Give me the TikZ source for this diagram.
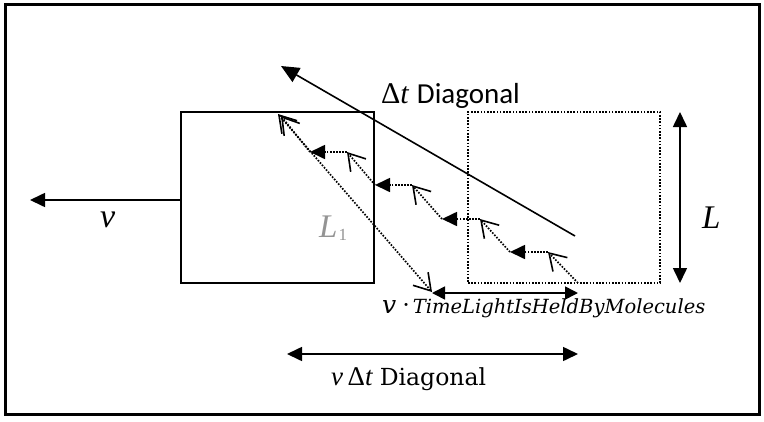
\documentclass[tikz,border=0pt]{standalone}
\usepackage{fontspec}
\setmainfont{Liberation Serif}
\newfontfamily\calfont{Carlito}
\newfontfamily\dvfont{DejaVu Serif}
\usetikzlibrary{arrows.meta}
\begin{document}
\begin{tikzpicture}[x=1pt,y=-1pt,
  solidline/.style={line width=1.6pt},
  dotline/.style={line width=1.7pt, dash pattern=on 1.6pt off 1.5pt},
  tri/.tip={Triangle[length=15pt,width=14pt]},
  barb/.tip={Straight Barb[length=16pt,width=20pt,line width=1.6pt]},
  lbl/.style={inner sep=0pt, anchor=base west}
]
\useasboundingbox (0,0) rectangle (764,421);
\draw[line width=3pt] (5,4) rectangle (759,414);

% boxes
\node[draw, solidline, minimum width=193pt, minimum height=171pt, inner sep=0pt] (box1) at (277.5,197.5) {};
\node[draw, line width=1.6pt, dash pattern=on 1.6pt off 1.6pt, minimum width=192pt, minimum height=171pt, inner sep=0pt] (box2) at (564,197.5) {};

% coordinates
\coordinate (vtail) at (181,200);
\coordinate (vtip) at (30,200);
\coordinate (dstart) at (575,236);
\coordinate (dtip) at (281,66);
\coordinate (Ltop) at (680,112);
\coordinate (Lbot) at (680,283);
\coordinate (s1) at (432,293);
\coordinate (s2) at (578,293);
\coordinate (b1) at (287,354);
\coordinate (b2) at (578,354);
\coordinate (D1) at (278,114);
\coordinate (D2) at (432,292);
\coordinate (P0) at (578,283);
\coordinate (A1) at (548,252);
\coordinate (H1) at (510,252);
\coordinate (A2) at (480,219);
\coordinate (H2) at (442,219);
\coordinate (A3) at (412,185);
\coordinate (H3) at (375,185);
\coordinate (A4) at (347,152);
\coordinate (H4) at (310,152);
\coordinate (A5) at (281,116);

% solid arrows
\draw[solidline, -{tri}] (vtail) -- (vtip);
\draw[solidline, -{Triangle[length=18pt,width=16pt]}] (dstart) -- (dtip);
\draw[solidline, {tri}-{tri}] (Ltop) -- (Lbot);
\draw[solidline, {Triangle[length=13pt,width=13pt]}-{Triangle[length=13pt,width=13pt]}] (s1) -- (s2);
\draw[solidline, {tri}-{tri}] (b1) -- (b2);

% dotted light path
\draw[dotline, {barb}-{barb}] (D2) -- (D1);
\draw[dotline, -{barb}] (P0) -- (A1);
\draw[dotline, -{tri}] (A1) -- (H1);
\draw[dotline, -{barb}] (H1) -- (A2);
\draw[dotline, -{tri}] (A2) -- (H2);
\draw[dotline, -{barb}] (H2) -- (A3);
\draw[dotline, -{tri}] (A3) -- (H3);
\draw[dotline, -{barb}] (H3) -- (A4);
\draw[dotline, -{tri}] (A4) -- (H4);
\draw[dotline, -{barb}] (H4) -- (A5);

% labels
\node[lbl] (tv) at (100,227) {\fontsize{34}{40}\selectfont\itshape v};
\node[lbl] (tL) at (702,228) {\fontsize{33}{40}\selectfont\itshape L};
\node[lbl, text=black!42] (tL1) at (319,237) {\fontsize{33}{40}\selectfont\itshape L\kern1pt\raisebox{-3pt}{\fontsize{17}{20}\selectfont\upshape 1}};
\node[lbl] (tdt) at (381,103) {\fontsize{30}{36}\selectfont\textup{Δ}\textit{t} \calfont\fontsize{29}{34}\selectfont Diagonal};
\node[lbl] (tvdt) at (331,385) {\fontsize{27}{32}\selectfont\textit{v}\,Δ\textit{t} \dvfont\fontsize{23.5}{28}\selectfont Diagonal};
\node[lbl] (tvt) at (382,313) {\dvfont\itshape\fontsize{25}{28}\selectfont v\hspace{7pt}\raisebox{3pt}{\upshape\bfseries\fontsize{16}{18}\selectfont ·}\hspace{4pt}\fontsize{19.5}{22}\selectfont TimeLightIsHeldByMolecules};
\end{tikzpicture}
\end{document}
